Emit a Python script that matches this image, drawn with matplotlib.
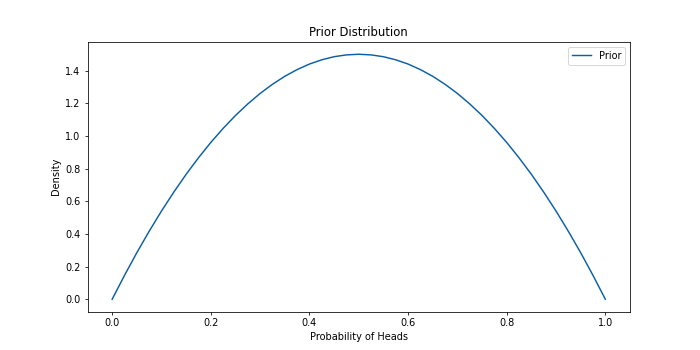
import matplotlib
matplotlib.use("Agg")
from matplotlib import pyplot as plt

# probability of heads and the prior density
prob_heads = [0.0, 0.025, 0.05, 0.075, 0.1, 0.125, 0.15, 0.175, 0.2, 0.225,
              0.25, 0.275, 0.3, 0.325, 0.35, 0.375, 0.4, 0.425, 0.45, 0.475,
              0.5, 0.525, 0.55, 0.575, 0.6, 0.625, 0.65, 0.675, 0.7, 0.725,
              0.75, 0.775, 0.8, 0.825, 0.85, 0.875, 0.9, 0.925, 0.95, 0.975, 1.0]
prior_density = [0.0, 0.146, 0.285, 0.416, 0.54, 0.656, 0.765, 0.866, 0.96, 1.046,
                 1.125, 1.196, 1.26, 1.316, 1.365, 1.406, 1.44, 1.466, 1.485, 1.496,
                 1.5, 1.496, 1.485, 1.466, 1.44, 1.406, 1.365, 1.316, 1.26, 1.196,
                 1.125, 1.046, 0.96, 0.866, 0.765, 0.656, 0.54, 0.416, 0.285, 0.146, 0.0]

fig, ax = plt.subplots(figsize=(10, 5), dpi=70)
ax.plot(prob_heads, prior_density, color="#0b5fa5", label="Prior")
ax.set_xlabel("Probability of Heads")
ax.set_ylabel("Density")
ax.set_title("Prior Distribution")
ax.legend(loc="upper right")

fig.savefig("out.png")
